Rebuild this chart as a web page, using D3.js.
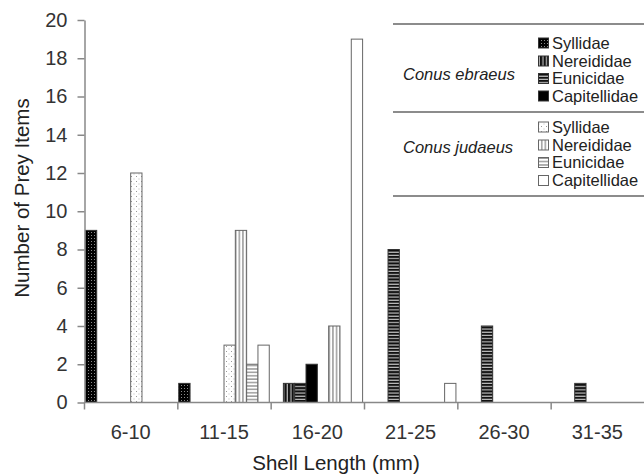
<!DOCTYPE html>
<html>
<head>
<meta charset="utf-8">
<script src="https://cdn.jsdelivr.net/npm/d3@7/dist/d3.min.js"></script>
<style>
  html, body { margin: 0; padding: 0; background: #fff; }
  svg { display: block; font-family: "Liberation Sans", Arial, sans-serif; }
</style>
</head>
<body>
<svg id="chart" width="644" height="474"></svg>
<script>
// ---- data ----
const categories = ["6-10", "11-15", "16-20", "21-25", "26-30", "31-35"];
const families = ["Syllidae", "Nereididae", "Eunicidae", "Capitellidae"];
const species = ["Conus ebraeus", "Conus judaeus"];
const ebraeusSyllidae     = [9, 1, 0, 0, 0, 0];
const ebraeusNereididae   = [0, 0, 1, 0, 0, 0];
const ebraeusEunicidae    = [0, 0, 1, 8, 4, 1];
const ebraeusCapitellidae = [0, 0, 2, 0, 0, 0];
const judaeusSyllidae     = [12, 3, 0, 0, 0, 0];
const judaeusNereididae   = [0, 9, 4, 0, 0, 0];
const judaeusEunicidae    = [0, 2, 0, 0, 0, 0];
const judaeusCapitellidae = [0, 3, 19, 1, 0, 0];
const yTicks = [0, 2, 4, 6, 8, 10, 12, 14, 16, 18, 20];

const seriesList = [
  { key: "e_syl", species: 0, family: 0, values: ebraeusSyllidae },
  { key: "e_ner", species: 0, family: 1, values: ebraeusNereididae },
  { key: "e_eun", species: 0, family: 2, values: ebraeusEunicidae },
  { key: "e_cap", species: 0, family: 3, values: ebraeusCapitellidae },
  { key: "j_syl", species: 1, family: 0, values: judaeusSyllidae },
  { key: "j_ner", species: 1, family: 1, values: judaeusNereididae },
  { key: "j_eun", species: 1, family: 2, values: judaeusEunicidae },
  { key: "j_cap", species: 1, family: 3, values: judaeusCapitellidae }
];

const svg = d3.select("#chart");
const defs = svg.append("defs");

// ---- patterns ----
function pat(id, w, h, bg, draw) {
  const p = defs.append("pattern").attr("id", id).attr("patternUnits", "userSpaceOnUse")
    .attr("width", w).attr("height", h);
  p.append("rect").attr("width", w).attr("height", h).attr("fill", bg);
  draw(p);
}
pat("e_syl", 3, 3, "#000", p => p.append("rect").attr("x", 1).attr("y", 1).attr("width", 0.9).attr("height", 0.9).attr("fill", "#aaa"));
pat("e_ner", 3.6, 4, "#111", p => p.append("rect").attr("x", 2.4).attr("y", 0).attr("width", 1).attr("height", 4).attr("fill", "#ddd"));
pat("e_eun", 4, 3.2, "#111", p => p.append("rect").attr("x", 0).attr("y", 2.1).attr("width", 4).attr("height", 1).attr("fill", "#ddd"));
pat("e_cap", 4, 4, "#000", p => {});
pat("j_syl", 5, 5, "#fff", p => {
  p.append("rect").attr("x", 1).attr("y", 1).attr("width", 1).attr("height", 1).attr("fill", "#999");
  p.append("rect").attr("x", 3.5).attr("y", 3.5).attr("width", 1).attr("height", 1).attr("fill", "#bbb");
});
pat("j_ner", 3.6, 4, "#fff", p => p.append("rect").attr("x", 1.2).attr("y", 0).attr("width", 1.1).attr("height", 4).attr("fill", "#777"));
pat("j_eun", 4, 3.4, "#fff", p => p.append("rect").attr("x", 0).attr("y", 1.2).attr("width", 4).attr("height", 1.1).attr("fill", "#777"));
pat("j_cap", 4, 4, "#fff", p => {});

const strokeFor = s => s.species === 0 ? "#333" : "#666";

// ---- scales ----
const x = d3.scaleBand().domain(categories).range([84, 644]).paddingInner(0.03).paddingOuter(0.015);
const xs = d3.scaleBand().domain(seriesList.map(s => s.key)).range([0, x.bandwidth()]).padding(0);
const y = d3.scaleLinear().domain([0, 20]).range([402.5, 20]);

// ---- bars ----
const barData = [];
seriesList.forEach(s => s.values.forEach((v, i) => { if (v > 0) barData.push({ s, cat: categories[i], v }); }));
svg.append("g").selectAll("rect").data(barData).join("rect")
  .attr("x", d => x(d.cat) + xs(d.s.key))
  .attr("y", d => y(d.v))
  .attr("width", xs.bandwidth())
  .attr("height", d => y(0) - y(d.v))
  .attr("fill", d => `url(#${d.s.key})`)
  .attr("stroke", d => strokeFor(d.s))
  .attr("stroke-width", 1);

// ---- y axis ----
const yAxis = svg.append("g").attr("transform", "translate(84.5,0)")
  .call(d3.axisLeft(y).tickValues(yTicks).tickSize(7).tickPadding(10).tickSizeOuter(0));
yAxis.select(".domain").attr("stroke", "#888").attr("stroke-width", 1.5);
yAxis.selectAll(".tick line").attr("stroke", "#888").attr("stroke-width", 1.5);
yAxis.selectAll(".tick text").attr("font-size", 20).attr("fill", "#333")
  .attr("font-family", "Liberation Sans, Arial, sans-serif");

// ---- x axis ----
const xAxisG = svg.append("g").attr("transform", `translate(0,${y(0)})`);
xAxisG.append("line").attr("x1", 84).attr("x2", 644).attr("y1", 0).attr("y2", 0)
  .attr("stroke", "#888").attr("stroke-width", 1.5);
xAxisG.selectAll("line.tk").data(categories).join("line").attr("class", "tk")
  .attr("x1", d => x(d) - x.step() * x.paddingOuter() + 0.5)
  .attr("x2", d => x(d) - x.step() * x.paddingOuter() + 0.5)
  .attr("y1", 0).attr("y2", 7).attr("stroke", "#888").attr("stroke-width", 1.5);
xAxisG.selectAll("text.lbl").data(categories).join("text").attr("class", "lbl")
  .attr("x", d => x(d) + x.bandwidth() / 2)
  .attr("y", 36)
  .attr("text-anchor", "middle").attr("font-size", 20).attr("fill", "#333")
  .text(d => d);

// ---- axis titles ----
svg.append("text").attr("transform", "translate(29,198) rotate(-90)")
  .attr("text-anchor", "middle").attr("font-size", 20.5).attr("fill", "#222")
  .text("Number of Prey Items");
svg.append("text").attr("x", 336).attr("y", 470)
  .attr("text-anchor", "middle").attr("font-size", 20.5).attr("fill", "#222")
  .text("Shell Length (mm)");

// ---- legend (table) ----
const lg = svg.append("g");
[24, 112, 196].forEach(yy => lg.append("line").attr("x1", 393).attr("x2", 644)
  .attr("y1", yy).attr("y2", yy).attr("stroke", "#666").attr("stroke-width", 1.5));
const rowY = [[43, 61, 78.5, 96], [127, 145, 162.5, 180.5]];
const spY = [74, 147];
species.forEach((sp, si) => {
  lg.append("text").attr("x", 403).attr("y", spY[si]).attr("dy", "0.35em")
    .attr("font-size", 16.5).attr("font-style", "italic").attr("fill", "#222").text(sp);
});
seriesList.forEach(s => {
  const yy = rowY[s.species][s.family];
  lg.append("rect").attr("x", 538.5).attr("y", yy - 5).attr("width", 10).attr("height", 10)
    .attr("fill", `url(#${s.key})`).attr("stroke", strokeFor(s)).attr("stroke-width", 1);
  lg.append("text").attr("x", 552).attr("y", yy).attr("dy", "0.35em")
    .attr("font-size", 16.5).attr("fill", "#222").text(families[s.family]);
});
</script>
</body>
</html>
